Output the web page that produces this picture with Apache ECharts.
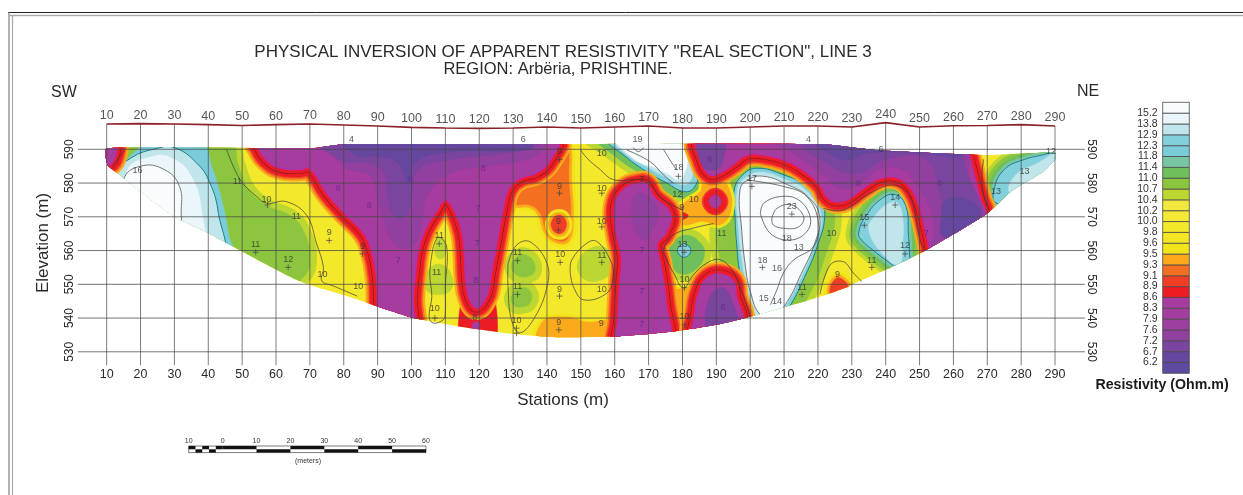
<!DOCTYPE html>
<html><head><meta charset="utf-8">
<style>html,body{margin:0;padding:0;background:#fff}#c{width:1243px;height:495px;filter:blur(0.4px)}</style>
<script src="https://cdn.jsdelivr.net/npm/echarts@6/dist/echarts.min.js"></script>
</head><body><div id="c"></div>
<script>
// ---------- scale of the section ----------
const stations=[10,20,30,40,50,60,70,80,90,100,110,120,130,140,150,160,170,180,190,200,210,220,230,240,250,260,270,280,290];
const topography=[597.5,597.6,597.5,597.3,597.05,597.3,597.5,597.2,596.9,596.5,596.3,596.2,596.3,596.6,596.3,596.6,596.9,596.3,596.3,596.6,596.9,596.9,596.6,597.9,596.6,597.0,597.05,597.3,596.9];
const elevations=[530,540,550,560,570,580,590];
// ---------- legend ----------
const legendTicks=[6.2,6.7,7.2,7.6,7.9,8.3,8.6,8.9,9.1,9.3,9.5,9.6,9.8,10.0,10.2,10.4,10.7,11.0,11.4,11.8,12.3,12.9,13.8,15.2];
const legendColors=['#5b4aa0','#66479f','#7a459f','#92409f','#9c3f9f','#a23c9f','#a63ba0','#ed1c24','#ef3e26','#f37021','#fbaa1c','#f2e31a','#f3e622','#f4e82a','#f3e936','#f2e83e','#bcd632','#8cc63f','#6fbf5c','#78c6a4','#7accd8','#82d0dc','#c0e5ea','#eaf6fa','#f8fcfd'];
// ---------- outline of the measured section: [station, elevation] ----------
const sectionOutline=[[10,590.3],[70,590.3],[80,591.5],[140,591.5],[221.5,591.5],[237,589.8],[270,588.3],[290,589],[290,587],[286.5,583.4],[277,577.5],[270,571],[252,560.2],[240,554.3],[232,550.8],[229,549.3],[219.6,546],[200,540.4],[190,538],[180,536.4],[170,535.3],[159,534.5],[144,534.3],[130,535.3],[115.5,537.3],[100,540.2],[90,543.4],[80,546.8],[70,549.8],[64,552.3],[50,559.7],[40,565.2],[30,570],[20,577.4],[13.5,582.7],[10.3,585.3]];
// ---------- resistivity regions: outlines ----------
const baseYellow=[[0,530],[300,530],[300,595],[0,595]];
const leftGreen=[[14,593],[46,593],[49,585],[52,578],[58,573],[64,570.5],[68,566],[70,558],[68,552],[60,548],[40,558],[10,572]];
const leftCyan=[[14,582],[17,588],[24,592],[38,592],[41,585],[44,575],[46,565],[47,558],[30,560],[10,575]];
const leftPale=[[12,582],[17,587.3],[25,590.3],[30,590.5],[36.5,586],[40.5,580],[43,571],[44,558],[30,558],[12,572]];
const leftPaler=[[16,583],[24,588],[30,587],[35,582],[38,572],[38,558],[20,562]];
const leftWhite=[[15,581],[20,585],[27,584],[31.5,579],[32,571],[32,558],[15,568]];
const blobA=[[129.5,555.5],[132,558.7],[135,558],[136.5,555],[135.5,552.8],[131.5,552.5]];
const blobB=[[129.5,546.5],[132,549],[135,548],[135,544.5],[132,543.2],[130,544]];
const blobC=[[151,556],[154,559],[157,558.5],[157.5,555],[155,553],[152,553.2]];
const blobD=[[106,552],[108,554],[110,552],[110,549.5],[108,549],[106,549.5]];
const blobE=[[107,562],[108.5,564],[110,562],[109.5,558],[107.5,558]];
const orangeTop=[[128,578],[130,574],[135,573.5],[138,571],[140,565.5],[143,563],[146,563.5],[147,570],[146.5,580],[145.5,593],[141,593],[137,585]];
const redBlobTop=[[141.5,569],[143.5,570.5],[145.5,569],[145.3,566],[143.3,565],[141.5,566.5]];
const orangeBottom=[[139,538],[146,539.5],[152,538],[158,538.5],[161,537],[161,530],[139,530]];
const orangeMid=[[176,545],[180,548],[183,546],[184,536],[176,530]];
const redFan=[[115.5,550],[117,545],[119,542],[122,545],[124,550],[124,530],[115,530]];
const highTopA=[[151,593],[157,588],[164,583],[172,577.5],[180,574],[185,574.8],[187.5,581],[186,593]];
const highTopB=[[155,593],[160,588],[167,583],[174,578],[180,575.5],[184,576.5],[186,581],[185,593]];
const highTopC=[[158,593],[163,588],[170,583],[175.4,580],[180.3,577.5],[183.3,578.5],[184.7,583],[184,593]];
const highTopD=[[160,593],[164,588],[170,584.5],[175.5,581.5],[180,579.5],[182.5,581],[183,585],[182.5,593]];
const highTopE=[[161,593],[166,587],[172,584.5],[176,582.5],[179,581],[181,584],[181.5,587],[181.5,593]];
const bigHighGreen=[[190,566],[192,573],[194,580],[198,585],[207,585.5],[214,583],[222,577],[225,570],[222,558],[218,548],[212,540],[198,538],[194,548],[191,558]];
const bigHighCyan=[[195.3,578],[197.8,582.4],[202,584.4],[210,582.4],[216,579.5],[220.7,575],[222,570],[219.7,561],[216,552],[212,544],[207,537],[201.5,537],[199,545],[197,553],[196,562],[195.5,570]];
const bigHighPale=[[196.2,578],[198.5,581.5],[203,583.2],[210.5,581],[216.5,577.8],[221,570],[218.7,561],[215.3,552.5],[211,544.5],[206.5,538.5],[202,538.5],[199.5,547],[197.7,556],[196.6,566]];
const bigHighWhite=[[197,578],[199.5,581],[204,582],[211,579.5],[217,576],[220.5,570],[219,562],[215,553],[211,545],[207,540.5],[203,541],[200,548],[198.5,556],[197.5,566]];
const rightHighCyan=[[232,565],[234,570],[239,575.5],[243,576.5],[246,573],[246.7,565],[247,560],[247,552],[242.3,555.5],[236.4,560],[233,563]];
const rightHighPale=[[235,566],[237,570.5],[241,574],[243.5,574],[245,570],[245,562],[244,556],[240,558]];
const greenMid=[[175,560],[177.5,563],[181.5,564.5],[185.5,562],[186.5,559],[184.5,555],[180.5,553],[177,555]];
const cyanDot=[[178.5,560],[180.5,562],[182.5,560],[180.5,558]];
const endCyan=[[272.8,574],[272,578],[275,584],[281,587],[287,588.5],[292,590],[295,570]];
const endPale=[[277,577],[278,582],[284,585.5],[292,588.5],[294,575]];
const orangeHole=[[180,572.5],[186,577],[187,580.5],[190,581.5],[193,578],[193.5,572],[191,568.5],[186,569.5],[180,568.5]];
const redWing=[[174,574],[179,571.8],[181.7,570.3],[179,568.7],[174,566.5]];
const redSpot=[[223.5,547.5],[225.3,551.7],[227.5,551.3],[229,548.5],[226,544]];
const lowCorner=[[8,593],[12.5,593],[12.5,588],[10.5,585],[8,584]];
const lowMain=[[54,593],[55,590],[57,587],[61,584.5],[67,584],[70,584.4],[75,577],[80.3,571],[86,565],[88.2,560],[89.7,552],[90,543],[90,532],[100.3,532],[100.5,546],[101,552],[102,560],[104,566],[107,571],[110,575],[113,571],[115,565],[115.7,558],[116,552],[117,546],[119.2,543],[122,546],[123,549.5],[123.5,553],[125,561],[127,572],[128.6,578],[132,581.4],[137,583],[141,586.8],[142.8,593]];
const lowMainMid=[[75,593],[80,585],[88,582],[90,575],[92,568],[95,562],[100,561],[103,568],[105,577],[112,583],[122,585],[130,586],[138,589],[140,593]];
const lowMainDeep=[[72,593],[80,586.5],[87,586],[92,583],[93,576],[95,570],[98,570],[100,576],[102,584],[112,587],[125,588.5],[137,591],[137,593]];
const lowMainDeepest=[[80,593],[84,588],[90,588],[96,586],[99,580],[101,586],[110,589],[135,590],[135,593]];
const lowSpot=[[117.8,537.6],[119,539],[120.3,537.6],[119,536.2]];
const low170=[[167.5,580],[162.6,578],[160,573],[160.6,565],[162,558],[161.6,551],[161,540],[161,530],[175.5,530],[175,546],[173.5,556],[172.5,562],[175,565],[176.4,571],[171.5,576],[169.5,579.5]];
const low170Deep=[[165,574],[167,577],[171,575],[173,571],[171,566],[169,563],[166,566]];
const low190=[[183.5,530],[183.8,542.5],[185,548],[187.5,552],[191.4,553],[195,551],[196,546],[198,540],[198,530]];
const low190Deep=[[187.5,536],[188,546],[192,549],[195,544],[196,538],[193,534]];
const lowRight=[[185.2,593],[185.7,586],[188.2,582.4],[191,583],[195,585.5],[199,588.3],[204,588.3],[210,586.8],[214.8,584.4],[220.6,579.5],[222.6,576],[225,574.5],[228.5,575],[233.5,578.5],[238.3,581.4],[243.8,581.4],[247.7,578],[250.2,572],[252,565],[253,560],[254,552],[272,552],[269.4,571.5],[268,575],[266,583],[264.7,588.5],[264.5,593]];
const lowRightMid=[[207,593],[214,588],[222,582],[226,578.5],[232,579.5],[238,584],[245,584],[250,578],[254,570],[255,558],[270,566],[265,580],[262,593]];
const lowRightDeep=[[215,593],[224,585],[232,583],[240,587],[252,587],[256,577],[258,568],[268,570],[264,583],[260,593]];
const lowRightDeepest=[[220,593],[227,587],[236,589],[250,589],[262,588],[262,593]];
const lowRightPocket=[[256.5,570],[258,575],[264,575],[268,571],[262,566],[257,564]];
const lowLeftPocket=[[185,593],[186,585],[190,584],[192,587],[192,593]];
const lowHole=[[187.8,574.5],[189.7,576.5],[191.5,574.5],[189.7,572.5]];
// value, outline, rim kind — painted in this order
const regions=[
 [9.9,baseYellow,'none'],[10.9,leftGreen,'soft'],[12,leftCyan,'none'],[13,leftPale,'teal'],[14,leftPaler,'none'],[15.5,leftWhite,'grey'],
 [10.9,blobA,'soft'],[10.9,blobB,'soft'],[10.6,blobC,'soft'],[10.6,blobD,'soft'],[10.5,blobE,'none'],
 [9.2,orangeTop,'warm'],[9.0,redBlobTop,'warm'],[9.4,orangeBottom,'warm'],[9.3,orangeMid,'warm'],[8.8,redFan,'none'],
 [10.5,highTopA,'none'],[11.1,highTopB,'none'],[12.5,highTopC,'teal'],[13.5,highTopD,'none'],[15.5,highTopE,'none'],
 [10.9,bigHighGreen,'soft'],[12.5,bigHighCyan,'teal'],[13.5,bigHighPale,'none'],[15.5,bigHighWhite,'grey'],
 [12.5,rightHighCyan,'high'],[13.5,rightHighPale,'none'],
 [11,greenMid,'soft'],[12.5,cyanDot,'teal'],[12.5,endCyan,'high'],[13.2,endPale,'none'],
 [9.3,orangeHole,'warm'],[8.8,redWing,'none'],[9.0,redSpot,'warm'],
 [8.4,lowCorner,'low'],[8.4,lowMain,'low'],[7.4,lowMainMid,'none'],[6.9,lowMainDeep,'none'],[6.3,lowMainDeepest,'none'],[8.4,lowSpot,'none'],
 [8.4,low170,'low'],[7.2,low170Deep,'none'],[8.4,low190,'low'],[7,low190Deep,'none'],
 [8.4,lowRight,'low'],[7.4,lowRightMid,'none'],[6.9,lowRightDeep,'none'],[6.3,lowRightDeepest,'none'],[6.5,lowRightPocket,'none'],[6.7,lowLeftPocket,'none'],[8.4,lowHole,'spot']
];
// ---------- contour lines ----------
const contours=[
 [[45.4,590],[49.4,581],[54.3,576],[57.3,574],[63,574.5],[69,570.5],[72,562],[74,555],[73.5,551],[77,549.5],[84,546.5]],
 [[11.5,584.9],[15.4,589.8]],
 [[128.5,556],[131,561.6],[135,562.6],[140,556.2],[140,549.3],[136.5,540.4],[132,535.6],[129.5,539.5],[128.5,549.3],[128.5,556]],
 [[106.4,561],[108,564],[110.4,561],[110,549.3],[110,541.4],[109.4,539.5],[106.4,538.5],[105.2,540.5],[106,546.4],[105.4,553.3],[106.4,561]],
 [[146.9,553.3],[147.3,557.2],[151.8,562.2],[154.7,562.7],[158.7,557.2],[159.6,552.3],[157.7,547.4],[150.8,545.4],[147.8,549.3],[146.9,553.3]],
 [[149.8,590],[151.8,587.4],[155.7,584],[159.6,581],[167.5,581],[170.5,579.5],[174.4,575],[180.3,572]],
 [[189.2,568],[183,566.6],[177.3,564.6],[174.4,560.2],[175.4,557.2],[177.4,553.3],[180.3,548.9],[183.3,552.9],[187.2,556.3],[191.1,557.3],[194.6,554.3],[197,549.3],[200,540.4]],
 [[206.4,569.6],[207.9,572.5],[212.3,573.5],[215.8,570],[214.3,567],[209.8,566.6],[206.8,567.6],[206.4,569.6]],
 [[203,571],[204,574],[208.9,576],[214.3,575],[217.7,570],[216.7,565.6],[211.8,563.1],[205.9,565.1],[203,571]],
 [[199,580.9],[209.8,579],[216.7,576],[220.2,568],[218.7,561.2],[212.8,557.2],[209.8,553.3],[207.9,548.4],[206,544]],
 [[221.6,572.5],[227.5,572],[235.4,577],[242.3,579.4],[247.2,576],[250.2,563],[251.7,560]],
 [[220.6,547],[223.6,555.7],[227.5,556.7],[230.5,553.3],[233,550.8]],
 [[268.9,587],[268.4,580],[269.9,573]],
 [[163.6,589.8],[170.5,586.3],[174.4,582.4],[177.3,580]],
 [[174.4,590],[176.9,585.9],[178.3,583.9]],
 [[165.5,590.5],[167,589.3],[168.5,590.5]]
];
// ---------- contour labels: station, elevation, text, tone ----------
const contourLabels=[
 [82.3,592.8,'4'],[133,592.8,'6'],[166.7,592.8,'19'],[217.2,592.8,'4'],[238.6,589.8,'6'],[288.8,589.3,'12'],[281,583.4,'13'],[272.6,577.5,'13'],
 [19.1,583.7,'16'],[48.6,580.6,'11'],[57.2,575.2,'10'],[66,570,'11'],[54,561.7,'11'],[63.6,557.2,'12'],[75.7,565.4,'9'],[85.5,561.2,'9'],[73.7,553,'10'],[84.3,549.3,'10'],
 [108.2,564.6,'11'],[107.4,553.5,'11'],[106.9,542.7,'10'],[118.7,540.3,'8'],[131.3,559.4,'11'],[131.3,549.3,'11'],[131,539.3,'10'],
 [143.7,589.3,'9'],[143.7,579,'9'],[143.4,568.6,'9'],[156.2,588.8,'10'],[156.2,578.5,'10'],[156.2,568.6,'10'],[143.9,558.7,'10'],[156.2,558.5,'11'],
 [168,581,'7'],[178.8,584.6,'18'],[178.5,576.5,'12'],[179.8,572.8,'9'],[183.3,575,'10'],[180,561.7,'13'],[191.6,565,'11'],[200.5,581.2,'17'],[212.3,573,'23'],[210.8,563.6,'18'],[214.3,561,'13'],[203.6,557,'18'],[207.9,554.8,'16'],
 [180.6,551.3,'10'],[143.7,548.5,'9'],[156.2,548.4,'10'],[156,538.3,'9'],[143.5,538.7,'9'],[180.6,540.5,'10'],[204,545.7,'15'],[207.9,544.9,'14'],[215.3,549.1,'11'],
 [224,565,'10'],[225.8,553,'9'],[235.9,557,'11'],[233.7,569.8,'15'],[242.8,575.8,'14'],[245.7,561.5,'12'],
 [99.7,581,'6','p'],[119.7,572.5,'7','p'],[119.4,562,'7','p'],[121.2,584.2,'8','p'],[87.5,573.3,'8','p'],[78.4,578.5,'8','p'],[96.1,557,'7','p'],[119,551,'8','p'],[168,560,'7','p'],[168,548,'7','p'],[168,538,'7','p'],[192,543,'6','p'],[188,587,'6','p'],[232,580,'8','p'],[256,580,'6','p'],[252,565,'7','p']
];
const crossPoints=[[57.5,573.5],[54,559.5],[63.6,555],[75.7,563],[85.5,559],[108.2,562],[106.9,540],[131.3,557],[131.3,547],[131,537],[143.7,587],[143.7,577],[143.4,566],[156.2,577],[156.2,567],[143.9,556.5],[156.2,556.5],[178.8,582],[180.5,559.5],[212.3,570.8],[203.6,555],[180.6,549],[143.7,546.5],[143.5,536.5],[180.6,538],[215.3,547],[235.9,555],[233.7,567.5],[242.8,573.5],[245.7,559],[200.5,579],[131,535.5]];
// ---------- scale bar cells: from, to, row (black cells) ----------
const scaleTicks=[-10,0,10,20,30,40,50,60];
const scaleCells=[[-10,-8,0],[-8,-6,1],[-6,-4,0],[-4,-2,1],[-2,0,0],[0,10,0],[10,20,1],[20,30,0],[30,40,1],[40,50,0],[50,60,1]];

function colorOf(v){let i=0;while(i<legendTicks.length&&v>=legendTicks[i])i++;return legendColors[i];}
const rims={
 none:[],
 soft:[[10.5,14]],
 warm:[[9.55,12],[9.4,6]],
 teal:[],grey:[],
 spot:[[9.0,14],[8.8,11]],
 high:[[10.5,26],[10.8,19],[11.2,12],[11.6,6]],
 low:[[9.4,24],[9.2,20],[9.0,17],[8.8,15],['#7a1c1c',9],[8.8,7.8],['#d6209a',2]]
};
const edge={teal:'#1b7f8c',grey:'#777',high:'#1b7f8c'};

const chart=echarts.init(document.getElementById('c'));
const soft='Liberation Sans, Arial, sans-serif';
const txt='#2a2a2a';
function toPx(api,pts){return pts.map(p=>api.coord(p));}
const clip=api=>({type:'polygon',shape:{points:toPx(api,sectionOutline),smooth:0.2}});
const tstyle=(size,weight,color)=>({fontFamily:soft,fontSize:size,fontWeight:weight||'normal',color:color||txt});
chart.setOption({
 animation:false,backgroundColor:'#fff',
 title:[
  {text:'PHYSICAL INVERSION OF APPARENT RESISTIVITY "REAL SECTION", LINE 3',left:558,top:39,textAlign:'center',textStyle:tstyle(17)},
  {text:'REGION: Arbëria, PRISHTINE.',left:553,top:56,textAlign:'center',textStyle:tstyle(16.5)},
  {text:'SW',left:59,top:80,textAlign:'center',textStyle:tstyle(16)},
  {text:'NE',left:1083,top:79,textAlign:'center',textStyle:tstyle(16)},
  {text:'Stations (m)',left:558,top:387,textAlign:'center',textStyle:tstyle(17)},
  {text:'Resistivity (Ohm.m)',left:1157,top:373,textAlign:'center',textStyle:tstyle(14.2,'bold','#1a1a1a')},
  {text:'(meters)',left:303,top:453,textAlign:'center',textStyle:tstyle(7,'normal','#333')}
 ],
 grid:[
  {left:72.8,top:115.55,width:1016.1,height:270},
  {left:1162.7,top:102.3,width:26.6,height:271},
  {left:188.7,top:446,width:237.3,height:6.6}
 ],
 xAxis:[
  {type:'value',gridIndex:0,min:0,max:300,interval:10,offset:-20,position:'bottom',
   axisLine:{show:false},axisTick:{show:false},splitLine:{show:false},
   axisLabel:{margin:2,fontFamily:soft,fontSize:12.5,color:txt,formatter:v=>(v>=10&&v<=290)?String(v):''}},
  {type:'value',gridIndex:1,min:0,max:1,show:false},
  {type:'value',gridIndex:2,min:-10,max:60,interval:10,position:'top',
   axisLine:{show:false},axisTick:{show:false},splitLine:{show:false},
   axisLabel:{margin:1.5,fontFamily:soft,fontSize:7,color:'#333',hideOverlap:false,formatter:v=>String(Math.abs(v))}}
 ],
 yAxis:[
  {type:'value',gridIndex:0,min:520,max:600,interval:10,position:'left',
   axisLine:{show:false},axisTick:{show:false},splitLine:{show:false},
   axisLabel:{rotate:90,margin:-3,fontFamily:soft,fontSize:12,color:txt,formatter:v=>(v>=530&&v<=590)?String(v):''}},
  {type:'value',gridIndex:0,min:520,max:600,interval:10,position:'right',
   axisLine:{show:false},axisTick:{show:false},splitLine:{show:false},
   axisLabel:{rotate:-90,margin:-4,fontFamily:soft,fontSize:12,color:txt,formatter:v=>(v>=530&&v<=590)?String(v):''}},
  {type:'value',gridIndex:1,min:0,max:25,interval:1,position:'left',
   axisLine:{show:false},axisTick:{show:false},splitLine:{show:false},
   axisLabel:{margin:5,fontFamily:soft,fontSize:10.5,color:'#333',formatter:v=>(v>=1&&v<=24)?legendTicks[v-1].toFixed(1):''}},
  {type:'value',gridIndex:2,min:0,max:2,show:false}
 ],
 series:[
  {type:'custom',xAxisIndex:0,yAxisIndex:0,silent:true,clip:false,z:2,data:regions.map((r,i)=>[i]),
   renderItem:(p,api)=>{
    const r=regions[p.dataIndex],pts=toPx(api,r[1]),kind=r[2],col=colorOf(r[0]),kids=[];
    const shape={points:pts,smooth:0.45};
    rims[kind].forEach(s=>{
     const c=typeof s[0]==='string'?s[0]:colorOf(s[0]);
     kids.push({type:'polygon',shape,style:{fill:c,stroke:c,lineWidth:s[1],lineJoin:'round'}});
    });
    kids.push({type:'polygon',shape,style:{fill:col,stroke:edge[kind]||col,lineWidth:edge[kind]?1:0.5,lineJoin:'round'}});
    return {type:'group',clipPath:clip(api),children:kids};
   }},
  {type:'custom',xAxisIndex:0,yAxisIndex:0,silent:true,clip:false,z:3,data:contours.map((c,i)=>[i]),
   renderItem:(p,api)=>({type:'polyline',shape:{points:toPx(api,contours[p.dataIndex]),smooth:0.4},style:{fill:null,stroke:'#3a3a3a',lineWidth:0.7}})},
  {type:'custom',xAxisIndex:0,yAxisIndex:0,silent:true,clip:false,z:4,data:elevations.map((e,i)=>[i]),
   renderItem:(p,api)=>{const e=elevations[p.dataIndex];return {type:'line',shape:{x1:api.coord([1.5,e])[0],y1:api.coord([1.5,e])[1],x2:api.coord([298.8,e])[0],y2:api.coord([298.8,e])[1]},style:{stroke:'rgba(70,70,70,0.75)',lineWidth:1}};}},
  {type:'custom',xAxisIndex:0,yAxisIndex:0,silent:true,clip:false,z:4,data:stations.map((s,i)=>[i]),
   renderItem:(p,api)=>{const i=p.dataIndex,a=api.coord([stations[i],526]),b=api.coord([stations[i],topography[i]]);
    return {type:'line',shape:{x1:a[0],y1:a[1],x2:b[0],y2:b[1]},style:{stroke:'rgba(70,70,70,0.7)',lineWidth:1}};}},
  {type:'line',xAxisIndex:0,yAxisIndex:0,silent:true,z:5,symbol:'none',data:stations.map((s,i)=>[s,topography[i]]),lineStyle:{color:'#8a2028',width:1.6}},
  {type:'scatter',xAxisIndex:0,yAxisIndex:0,silent:true,z:6,symbolSize:0,data:stations.map((s,i)=>[s,topography[i]]),
   label:{show:true,position:'top',distance:2,fontFamily:soft,fontSize:12.5,color:txt,formatter:p=>String(p.value[0])}},
  {type:'custom',xAxisIndex:0,yAxisIndex:0,silent:true,clip:false,z:6,data:crossPoints.map((c,i)=>[i]),
   renderItem:(p,api)=>{const c=api.coord(crossPoints[p.dataIndex]),st={stroke:'#444',lineWidth:0.7};
    return {type:'group',children:[{type:'line',shape:{x1:c[0]-3,y1:c[1],x2:c[0]+3,y2:c[1]},style:st},{type:'line',shape:{x1:c[0],y1:c[1]-3,x2:c[0],y2:c[1]+3},style:st}]};}},
  {type:'scatter',xAxisIndex:0,yAxisIndex:0,silent:true,z:7,symbolSize:0,
   data:contourLabels.map(l=>({value:[l[0],l[1]],name:l[2],label:{color:l[3]==='p'?'#5e2a85':'#333'}})),
   label:{show:true,position:'inside',fontFamily:soft,fontSize:9,formatter:p=>p.name},
   labelLayout:{hideOverlap:false}},
  {type:'custom',xAxisIndex:1,yAxisIndex:2,silent:true,z:2,data:legendColors.map((c,i)=>[i]),
   renderItem:(p,api)=>{const i=p.dataIndex,a=api.coord([0,i+1]),b=api.coord([1,i]);
    return {type:'rect',shape:{x:a[0],y:a[1],width:b[0]-a[0],height:b[1]-a[1]},style:{fill:legendColors[i],stroke:'#4a4a4a',lineWidth:0.8}};}},
  {type:'custom',xAxisIndex:2,yAxisIndex:3,silent:true,z:2,data:scaleCells.map((c,i)=>[i]),
   renderItem:(p,api)=>{const c=scaleCells[p.dataIndex],a=api.coord([c[0],2-c[2]]),b=api.coord([c[1],1-c[2]]);
    return {type:'rect',shape:{x:a[0],y:a[1],width:b[0]-a[0],height:b[1]-a[1]},style:{fill:'#111'}};}}
 ],
 graphic:[
  {type:'text',x:43,y:243,rotation:Math.PI/2,style:{text:'Elevation (m)',font:'17px '+soft,fill:txt,textAlign:'center',textVerticalAlign:'middle'}},
  {type:'line',shape:{x1:8,y1:12.5,x2:1243,y2:12.5},style:{stroke:'#222',lineWidth:1}},
  {type:'line',shape:{x1:9,y1:15.5,x2:1243,y2:15.5},style:{stroke:'#aaa',lineWidth:1.5}},
  {type:'line',shape:{x1:9,y1:12.5,x2:9,y2:495},style:{stroke:'#999',lineWidth:1.5}},
  {type:'line',shape:{x1:12.5,y1:15.5,x2:12.5,y2:495},style:{stroke:'#aaa',lineWidth:1.2}},
  {type:'rect',shape:{x:188.7,y:446,width:237.3,height:6.6},style:{fill:null,stroke:'#222',lineWidth:0.6}}
 ]
});
</script></body></html>
